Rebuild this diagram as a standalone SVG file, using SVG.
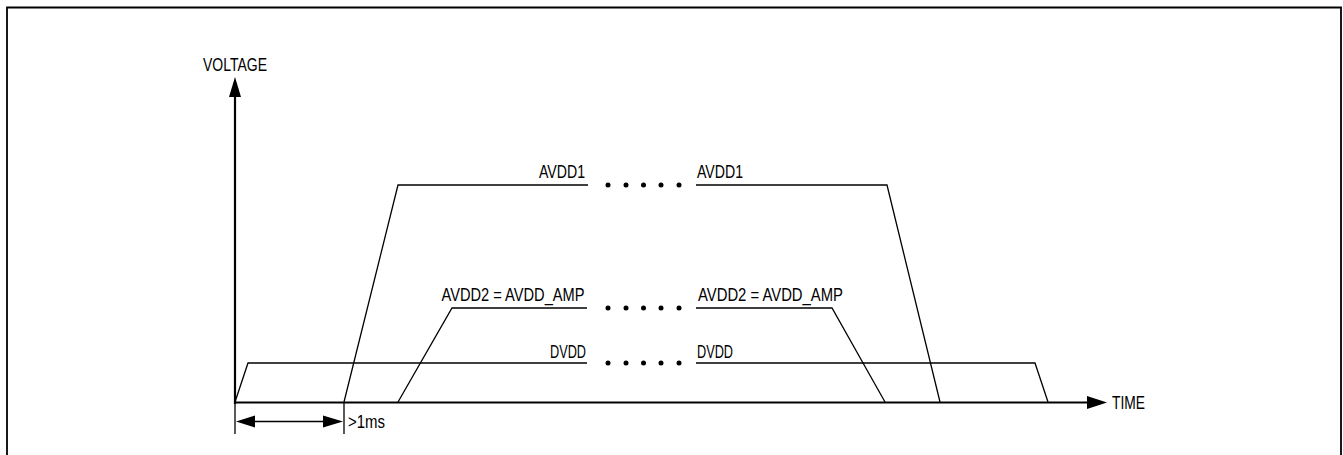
<svg xmlns="http://www.w3.org/2000/svg" width="1343" height="455" viewBox="0 0 1343 455">
<defs>
<style>
.t{font-family:"Liberation Sans",Arial,sans-serif;font-size:18px;fill:#000}
.ax{stroke:#000;stroke-width:2.2;fill:none}
.sig{stroke:#000;stroke-width:1.3;fill:none;stroke-linejoin:miter}
.dim{stroke:#000;stroke-width:1.3;fill:none}
.dot{fill:#000}
</style>
</defs>
<rect x="0" y="0" width="1343" height="455" fill="#fff"/>
<path d="M7,470 V7.5 H1341 V470" fill="none" stroke="#000" stroke-width="1.8"/>
<g id="axes">
<line class="ax" x1="235" y1="404" x2="235" y2="95"/>
<polygon points="235,77 229,97 241,97"/>
<text class="t" x="203" y="70.5" textLength="64" lengthAdjust="spacingAndGlyphs">VOLTAGE</text>
<line class="ax" x1="234" y1="402.5" x2="1090" y2="402.5"/>
<polygon points="1107,402.5 1087,396 1087,409"/>
<text class="t" x="1112" y="409" textLength="33" lengthAdjust="spacingAndGlyphs">TIME</text>
</g>
<g id="connectors">
<g id="dvdd">
<polyline class="sig" points="235,402 248,363 587,363"/>
<polyline class="sig" points="696,363 1035,363 1048,402"/>
<text class="t" x="550" y="358" textLength="36" lengthAdjust="spacingAndGlyphs">DVDD</text>
<text class="t" x="697" y="358" textLength="36" lengthAdjust="spacingAndGlyphs">DVDD</text>
<circle class="dot" cx="608" cy="363" r="2.5"/><circle class="dot" cx="626" cy="363" r="2.5"/><circle class="dot" cx="643.5" cy="363" r="2.5"/><circle class="dot" cx="661" cy="363" r="2.5"/><circle class="dot" cx="679" cy="363" r="2.5"/>
</g>
<g id="avdd1">
<polyline class="sig" points="344,402 398,185 588,185"/>
<polyline class="sig" points="696,185 887,185 940,402"/>
<text class="t" x="539" y="178" textLength="46" lengthAdjust="spacingAndGlyphs">AVDD1</text>
<text class="t" x="697" y="178" textLength="46" lengthAdjust="spacingAndGlyphs">AVDD1</text>
<circle class="dot" cx="608" cy="185" r="2.5"/><circle class="dot" cx="626" cy="185" r="2.5"/><circle class="dot" cx="643.5" cy="185" r="2.5"/><circle class="dot" cx="661" cy="185" r="2.5"/><circle class="dot" cx="679" cy="185" r="2.5"/>
</g>
<g id="avdd2">
<polyline class="sig" points="398,402 452,308 587,308"/>
<polyline class="sig" points="696,308 832,308 885,402"/>
<text class="t" x="441.5" y="300.5" textLength="143" lengthAdjust="spacingAndGlyphs">AVDD2 = AVDD_AMP</text>
<text class="t" x="698" y="300.5" textLength="145" lengthAdjust="spacingAndGlyphs">AVDD2 = AVDD_AMP</text>
<circle class="dot" cx="608" cy="308" r="2.5"/><circle class="dot" cx="626" cy="308" r="2.5"/><circle class="dot" cx="643.5" cy="308" r="2.5"/><circle class="dot" cx="661" cy="308" r="2.5"/><circle class="dot" cx="679" cy="308" r="2.5"/>
</g>
<g id="dimension">
<line class="dim" x1="235" y1="402" x2="235" y2="434"/>
<line class="dim" x1="344" y1="402" x2="344" y2="434"/>
<line class="dim" x1="250" y1="421.5" x2="330" y2="421.5"/>
<polygon points="236,421.5 255,415.5 255,427.5"/>
<polygon points="343,421.5 323,415.5 323,427.5"/>
<text class="t" x="348" y="428" textLength="37" lengthAdjust="spacingAndGlyphs">&gt;1ms</text>
</g>
</g>
</svg>
